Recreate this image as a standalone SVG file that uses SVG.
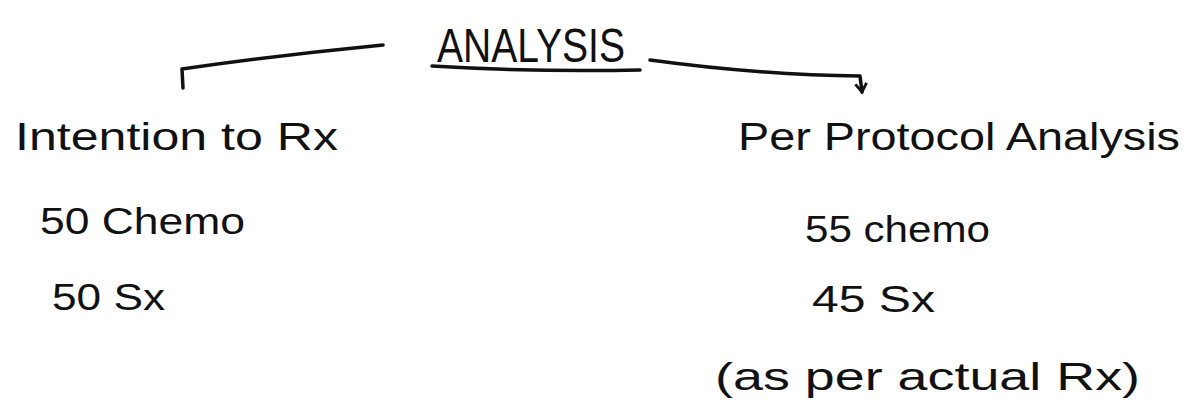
<svg xmlns="http://www.w3.org/2000/svg" width="1185" height="411" viewBox="0 0 1185 411">
<defs>
<style>
.t{font-family:"Liberation Sans","DejaVu Sans",sans-serif;fill:#111;}
.l{fill:none;stroke:#111;stroke-width:3.5;stroke-linecap:round;stroke-linejoin:round;}
</style>
<marker id="ah" viewBox="0 0 10 10" refX="8" refY="5" markerWidth="4" markerHeight="4" orient="auto">
<path d="M2,1 L8,5 L2,9" fill="none" stroke="#111" stroke-width="2"/>
</marker>
</defs>
<rect width="1185" height="411" fill="#fff"/>
<g id="root">
<text class="t" x="437" y="62" font-size="48" textLength="188" lengthAdjust="spacingAndGlyphs">ANALYSIS</text>
<path class="l" d="M432,66 Q530,72 640,70"/>
</g>
<g id="connectors">
<path class="l" d="M383,45 Q280,55 182,69 L183,88"/>
<path class="l" d="M650,60 Q760,75 860,76 L862,92" marker-end="url(#ah)"/>
</g>
<g id="itt">
<text class="t" x="15" y="150" font-size="38" textLength="323" lengthAdjust="spacingAndGlyphs">Intention to Rx</text>
<text class="t" x="40" y="234" font-size="36" textLength="205" lengthAdjust="spacingAndGlyphs">50 Chemo</text>
<text class="t" x="52" y="310" font-size="36" textLength="113" lengthAdjust="spacingAndGlyphs">50 Sx</text>
</g>
<g id="ppa">
<text class="t" x="738" y="150" font-size="38" textLength="442" lengthAdjust="spacingAndGlyphs">Per Protocol Analysis</text>
<text class="t" x="805" y="242" font-size="36" textLength="185" lengthAdjust="spacingAndGlyphs">55 chemo</text>
<text class="t" x="812" y="312" font-size="36" textLength="123" lengthAdjust="spacingAndGlyphs">45 Sx</text>
<text class="t" x="715" y="390" font-size="38" textLength="425" lengthAdjust="spacingAndGlyphs">(as per actual Rx)</text>
</g>
</svg>
